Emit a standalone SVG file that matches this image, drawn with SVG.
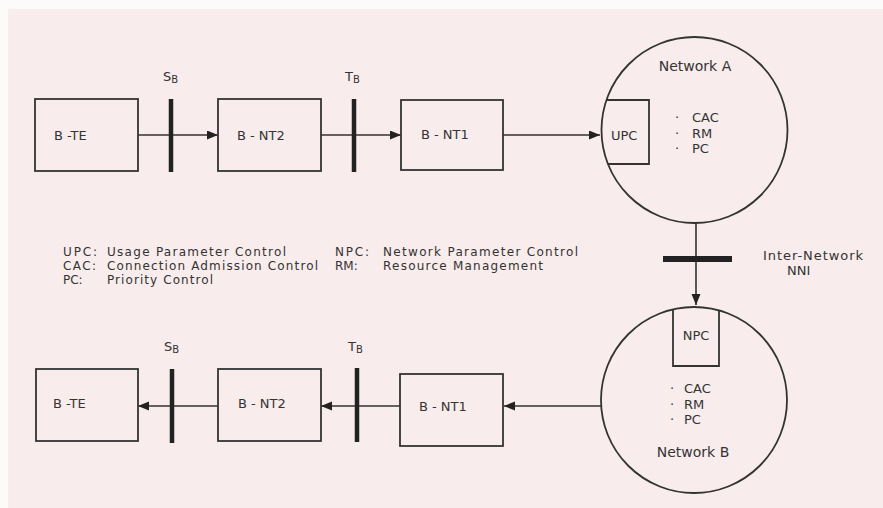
<svg xmlns="http://www.w3.org/2000/svg" width="883" height="508" viewBox="0 0 883 508">
<style>
text{font-family:"DejaVu Sans","Open Sans",sans-serif;fill:#333;font-size:13px}
.big{font-size:14px}
.lg{font-size:12px}
.box{fill:none;stroke:#333;stroke-width:1.8}
.bar{stroke:#222;stroke-width:4.5}
.con{stroke:#333;stroke-width:1.6;fill:none}
.sub{font-size:10px}
.mid{text-anchor:middle}
</style>
<defs>
<marker id="ah" markerUnits="userSpaceOnUse" markerWidth="12" markerHeight="10" refX="11" refY="4.5" orient="auto">
<path d="M0,0 L11,4.5 L0,9 z" fill="#222"/>
</marker>
</defs>
<rect x="0" y="0" width="883" height="508" fill="#fdfafa"/>
<rect x="8" y="9" width="875" height="499" fill="#f9ecec"/>

<g id="connectors">
<line class="con" x1="138" y1="135" x2="218" y2="135" marker-end="url(#ah)"/>
<line class="con" x1="321" y1="135" x2="401" y2="135" marker-end="url(#ah)"/>
<line class="con" x1="503" y1="135" x2="600" y2="135" marker-end="url(#ah)"/>
<line class="con" x1="696" y1="223" x2="696" y2="305" marker-end="url(#ah)"/>
<line class="con" x1="601" y1="406" x2="504" y2="406" marker-end="url(#ah)"/>
<line class="con" x1="400" y1="406" x2="321" y2="406" marker-end="url(#ah)"/>
<line class="con" x1="218" y1="406" x2="138" y2="406" marker-end="url(#ah)"/>
</g>

<g id="interfaces">
<line class="bar" x1="171" y1="99" x2="171" y2="172"/>
<text x="163" y="81">S<tspan class="sub" dy="2">B</tspan></text>
<line class="bar" x1="354" y1="99" x2="354" y2="172"/>
<text x="345" y="81">T<tspan class="sub" dy="2">B</tspan></text>
<line class="bar" x1="172" y1="369" x2="172" y2="443"/>
<text x="164" y="351">S<tspan class="sub" dy="2">B</tspan></text>
<line class="bar" x1="357" y1="368" x2="357" y2="442"/>
<text x="348" y="351">T<tspan class="sub" dy="2">B</tspan></text>
<line stroke="#222" stroke-width="6" x1="663" y1="259" x2="732" y2="259"/>
<text x="763" y="259.5" textLength="100" lengthAdjust="spacing">Inter-Network</text>
<text x="787" y="275">NNI</text>
</g>

<g id="te-top">
<rect class="box" x="35" y="99" width="103" height="72"/>
<text x="54" y="140">B -TE</text>
</g>
<g id="nt2-top">
<rect class="box" x="218" y="99" width="103" height="72"/>
<text x="237" y="140">B - NT2</text>
</g>
<g id="nt1-top">
<rect class="box" x="401" y="100" width="102" height="70"/>
<text x="421" y="139">B - NT1</text>
</g>

<g id="network-a">
<circle class="box" cx="694.5" cy="130" r="93"/>
<path class="box" d="M607,100 H649 V164 H608"/>
<text x="611" y="140">UPC</text>
<text class="mid big" x="695" y="71">Network A</text>
<text x="675" y="122">·<tspan x="692">CAC</tspan></text>
<text x="675" y="137.5">·<tspan x="692">RM</tspan></text>
<text x="675" y="153">·<tspan x="692">PC</tspan></text>
</g>

<g id="network-b">
<circle class="box" cx="694" cy="400" r="93"/>
<path class="box" d="M673,310 V366 H719 V310"/>
<text class="mid" x="696" y="340">NPC</text>
<text x="670" y="393">·<tspan x="684">CAC</tspan></text>
<text x="670" y="408.5">·<tspan x="684">RM</tspan></text>
<text x="670" y="424">·<tspan x="684">PC</tspan></text>
<text class="mid big" x="693" y="457">Network B</text>
</g>

<g id="te-bottom">
<rect class="box" x="36" y="369" width="102" height="72"/>
<text x="53" y="408">B -TE</text>
</g>
<g id="nt2-bottom">
<rect class="box" x="218" y="369" width="103" height="72"/>
<text x="238" y="408">B - NT2</text>
</g>
<g id="nt1-bottom">
<rect class="box" x="400" y="374" width="103" height="72"/>
<text x="419" y="411">B - NT1</text>
</g>

<g id="legend">
<text class="lg" x="63" y="256" textLength="34" lengthAdjust="spacing">UPC:</text>
<text class="lg" x="107" y="256" textLength="179" lengthAdjust="spacing">Usage  Parameter Control</text>
<text class="lg" x="63" y="270.2" textLength="33" lengthAdjust="spacing">CAC:</text>
<text class="lg" x="107" y="270.2" textLength="211" lengthAdjust="spacing">Connection Admission Control</text>
<text class="lg" x="63" y="284.4">PC:</text>
<text class="lg" x="107" y="284.4" textLength="106" lengthAdjust="spacing">Priority Control</text>
<text class="lg" x="335" y="256" textLength="34" lengthAdjust="spacing">NPC:</text>
<text class="lg" x="383" y="256" textLength="195" lengthAdjust="spacing">Network  Parameter Control</text>
<text class="lg" x="335" y="270.2">RM:</text>
<text class="lg" x="383" y="270.2" textLength="160" lengthAdjust="spacing">Resource Management</text>
</g>
</svg>
